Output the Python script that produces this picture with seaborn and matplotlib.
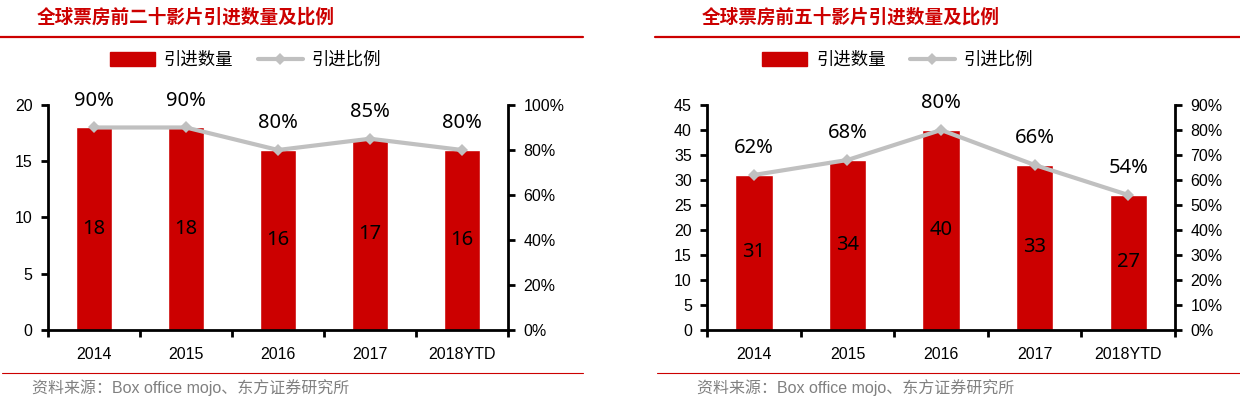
import matplotlib
matplotlib.use("Agg")
import matplotlib.pyplot as plt
import seaborn as sns
import pandas as pd
from matplotlib.patches import Patch
from matplotlib.lines import Line2D

# dados
anos = ["2014", "2015", "2016", "2017", "2018YTD"]
top20_qtd = [18, 18, 16, 17, 16]
top20_pct = [90, 90, 80, 85, 80]
top50_qtd = [31, 34, 40, 33, 27]
top50_pct = [62, 68, 80, 66, 54]

titulo_20 = "全球票房前二十影片引进数量及比例"
titulo_50 = "全球票房前五十影片引进数量及比例"
fonte = "资料来源：Box office mojo、东方证券研究所"

VERMELHO = "#cc0000"
CINZA = "#c0c0c0"

sns.set_style("white")
plt.rcParams['font.family'] = ['Liberation Sans', 'Noto Sans CJK SC', 'DejaVu Sans']
plt.rcParams['text.color'] = 'black'
plt.rcParams['xtick.color'] = 'black'
plt.rcParams['ytick.color'] = 'black'
plt.rcParams['xtick.labelcolor'] = 'black'
plt.rcParams['ytick.labelcolor'] = 'black'

fig = plt.figure(figsize=(12.4, 3.98), dpi=100)


def painel(rect, qtd, pct, ymax, ystep, pmax, pstep, titulo, tx, x0, x1, legx):
    df = pd.DataFrame({'ano': anos, 'qtd': qtd, 'pct': pct})
    ax = fig.add_axes(rect)
    sns.barplot(data=df, x='ano', y='qtd', order=anos, color=VERMELHO,
                width=0.4, saturation=1, ax=ax)
    ax.set_ylim(0, ymax)
    ax.set_yticks(range(0, ymax + 1, ystep))
    ax.set_xlim(-0.5, len(anos) - 0.5)
    ax.set_xlabel('')
    ax.set_ylabel('')
    for i, v in enumerate(qtd):
        ax.text(i, v / 2, str(v), ha='center', va='center', fontsize=14.5,
                color='black', family=['Noto Sans', 'DejaVu Sans'])

    ax2 = ax.twinx()
    sns.lineplot(x=list(range(len(anos))), y=pct, ax=ax2, color=CINZA,
                 linewidth=3, marker='D', markersize=6, markeredgewidth=0, sort=False)
    ax2.set_ylim(0, pmax)
    ax2.set_yticks(range(0, pmax + 1, pstep))
    ax2.set_yticklabels([f"{t}%" for t in range(0, pmax + 1, pstep)])
    for i, p in enumerate(pct):
        ax2.text(i, p + pmax * 0.075, f"{p}%", ha='center', va='bottom', fontsize=14.5,
                 color='black', family=['Noto Sans', 'DejaVu Sans'])

    for a in (ax, ax2):
        for s in a.spines.values():
            s.set_visible(False)
        a.grid(False)
    ax.spines['left'].set_visible(True)
    ax.spines['bottom'].set_visible(True)
    ax2.spines['right'].set_visible(True)
    for s in ('left', 'bottom'):
        ax.spines[s].set_linewidth(2)
        ax.spines[s].set_color('black')
    ax2.spines['right'].set_linewidth(2)
    ax2.spines['right'].set_color('black')

    # ticks nas fronteiras das categorias
    ax.set_xticks([i - 0.5 for i in range(len(anos) + 1)], minor=True)
    ax.tick_params(axis='x', which='major', length=0, pad=12, labelsize=11.5)
    ax.tick_params(axis='x', which='minor', length=5, width=2, direction='out', bottom=True)
    ax.tick_params(axis='y', length=5, width=2, direction='out', left=True, pad=6, labelsize=11.5)
    ax2.tick_params(axis='y', length=5, width=2, direction='out', right=True, pad=6, labelsize=11.5)

    fig.text(tx, 0.957, titulo, color=VERMELHO, fontsize=13.4, fontweight='bold',
             va='center', ha='left', family=['Noto Sans CJK SC'])
    fig.add_artist(Line2D([x0, x1], [0.908, 0.908], color=VERMELHO, linewidth=1.6,
                          transform=fig.transFigure))
    fig.add_artist(Line2D([x0 + 0.002, x1], [0.0628, 0.0628], color=VERMELHO, linewidth=0.8,
                          transform=fig.transFigure))
    fig.text(tx - 0.004, 0.025, fonte, color='#808080', fontsize=11.5, va='center', ha='left')

    handles = [Patch(color=VERMELHO),
               Line2D([], [], color=CINZA, linewidth=3, marker='D', markersize=6,
                      markeredgewidth=0)]
    fig.legend(handles, ['引进数量', '引进比例'], loc='center', bbox_to_anchor=(legx, 0.849),
               ncol=2, frameon=False, handlelength=2.6, handleheight=0.9,
               columnspacing=1.4, handletextpad=0.5,
               prop={'family': ['Noto Sans CJK SC'], 'size': 12.5})


painel([0.0387, 0.1709, 0.371, 0.5653], top20_qtd, top20_pct, 20, 5, 100, 20,
       titulo_20, 0.030, 0.0, 0.470, 0.198)
painel([0.5702, 0.1709, 0.3774, 0.5653], top50_qtd, top50_pct, 45, 5, 90, 10,
       titulo_50, 0.566, 0.528, 1.0, 0.724)

fig.savefig("out.png", dpi=100)
